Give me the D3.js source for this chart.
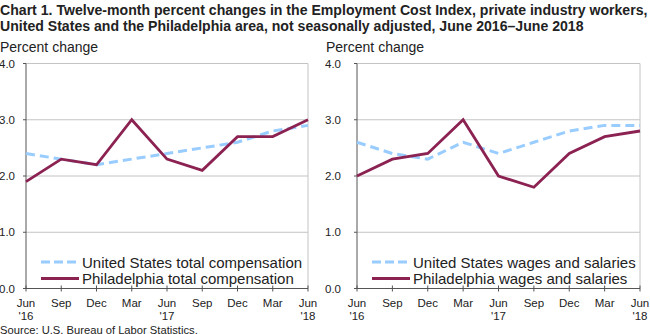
<!DOCTYPE html>
<html><head><meta charset="utf-8">
<script src="https://cdn.jsdelivr.net/npm/d3@7"></script>
<style>
body{margin:0;background:#fff;}
svg text{font-family:"Liberation Sans",Arial,sans-serif;fill:#222;}
</style></head>
<body><svg id="c" width="650" height="334"></svg>
<script>
const months = ["Jun","Sep","Dec","Mar","Jun","Sep","Dec","Mar","Jun"];
const years = ["'16","","","","'17","","","","'18"];
const yTicks = [0,1,2,3,4];
const usTotal = [2.4,2.3,2.2,2.3,2.4,2.5,2.6,2.8,2.9];
const phTotal = [1.9,2.3,2.2,3.0,2.3,2.1,2.7,2.7,3.0];
const usWages = [2.6,2.4,2.3,2.6,2.4,2.6,2.8,2.9,2.9];
const phWages = [2.0,2.3,2.4,3.0,2.0,1.8,2.4,2.7,2.8];
const titleLines = ["Chart 1. Twelve-month percent changes in the Employment Cost Index, private industry workers,",
  "United States and the Philadelphia area, not seasonally adjusted, June 2016\u2013June 2018"];

const svg = d3.select("#c");
svg.selectAll("text.title").data(titleLines).join("text")
  .attr("x",0).attr("y",(d,i)=>14.5+i*16)
  .style("font-weight","bold").style("font-size","14.1px").text(d=>d);

const blue="#99CCFF", purple="#8B2252";
function panel(x0,x1,labelX,us,ph,usLabel,phLabel){
  const g = svg.append("g");
  const x = d3.scaleLinear().domain([0,8]).range([x0,x1]);
  const y = d3.scaleLinear().domain([0,4]).range([288.5,63.5]);
  g.append("text").attr("x",labelX).attr("y",52).style("font-size","14px").text("Percent change");
  g.selectAll("line.grid").data(yTicks.filter(d=>d>0)).join("line")
    .attr("x1",x0).attr("x2",x1).attr("y1",d=>y(d)).attr("y2",d=>y(d))
    .attr("stroke","#c4c4c4").attr("stroke-width",1);
  g.append("line").attr("x1",x1).attr("x2",x1).attr("y1",y(4)).attr("y2",y(0)).attr("stroke","#c4c4c4");
  g.selectAll("text.yl").data(yTicks).join("text")
    .attr("x",labelX+15).attr("y",d=>y(d)+4).attr("text-anchor","end").style("font-size","11.5px")
    .text(d=>d.toFixed(1));
  g.append("line").attr("x1",x0).attr("x2",x0).attr("y1",y(4)).attr("y2",y(0)).attr("stroke","#555");
  g.selectAll("line.yt").data(yTicks).join("line")
    .attr("x1",x0-3).attr("x2",x0).attr("y1",d=>y(d)).attr("y2",d=>y(d)).attr("stroke","#555");
  g.append("line").attr("x1",x0).attr("x2",x1).attr("y1",y(0)).attr("y2",y(0)).attr("stroke","#555");
  g.selectAll("line.xt").data(months).join("line")
    .attr("x1",(d,i)=>x(i)).attr("x2",(d,i)=>x(i)).attr("y1",y(0)-3).attr("y2",y(0)+3).attr("stroke","#555");
  g.selectAll("text.m").data(months).join("text")
    .attr("x",(d,i)=>x(i)).attr("y",y(0)+18).attr("text-anchor","middle").style("font-size","11.5px").text(d=>d);
  g.selectAll("text.yr").data(years).join("text")
    .attr("x",(d,i)=>x(i)).attr("y",y(0)+31).attr("text-anchor","middle").style("font-size","11.5px").text(d=>d);
  const line = d3.line().x((d,i)=>x(i)).y(d=>y(d));
  g.append("path").datum(us).attr("d",line).attr("fill","none").attr("stroke",blue)
    .attr("stroke-width",3).attr("stroke-dasharray","9,5");
  g.append("path").datum(ph).attr("d",line).attr("fill","none").attr("stroke",purple)
    .attr("stroke-width",2.8).attr("stroke-linejoin","miter");
  const lx = x0+15;
  g.append("line").attr("x1",lx).attr("x2",lx+38).attr("y1",262).attr("y2",262)
    .attr("stroke",blue).attr("stroke-width",3).attr("stroke-dasharray","9,4");
  g.append("line").attr("x1",lx).attr("x2",lx+38).attr("y1",278.5).attr("y2",278.5)
    .attr("stroke",purple).attr("stroke-width",2.8);
  g.append("text").attr("x",lx+41).attr("y",267.5).style("font-size","15px").text(usLabel);
  g.append("text").attr("x",lx+41).attr("y",284).style("font-size","15px").text(phLabel);
}
panel(26,308,0,usTotal,phTotal,"United States total compensation","Philadelphia total compensation");
panel(357,640,326,usWages,phWages,"United States wages and salaries","Philadelphia wages and salaries");
svg.append("text").attr("x",0).attr("y",333.5).style("font-size","11.2px").text("Source: U.S. Bureau of Labor Statistics.");
</script></body></html>
